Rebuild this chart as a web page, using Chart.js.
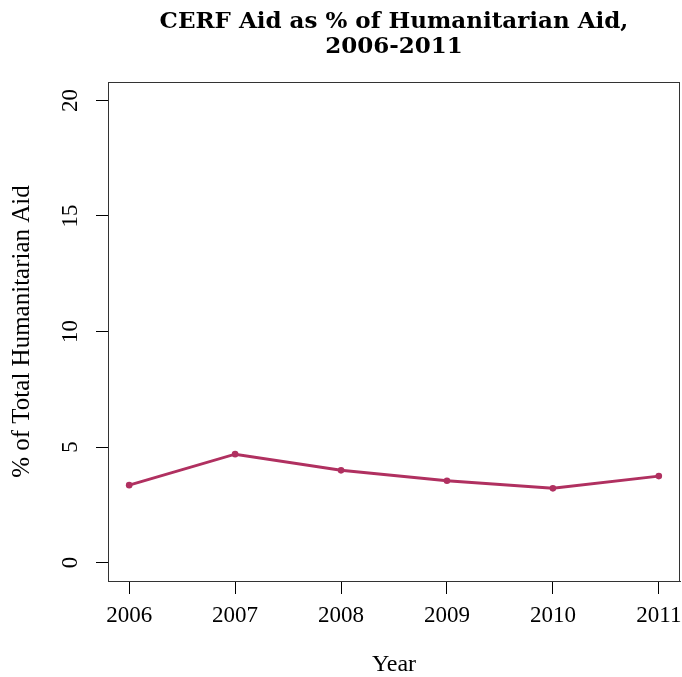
<!DOCTYPE html>
<html>
<head>
<meta charset="utf-8">
<style>
    body { margin: 0; background: #fff; }
    .chart { width: 682px; height: 677px; }
</style>
</head>
<body>
<div class="chart">
    <canvas id="cerfChart"></canvas>
</div>
<script src="https://cdn.jsdelivr.net/npm/chart.js"></script>
<script>
const years = [2006, 2007, 2008, 2009, 2010, 2011];
const cerfShare = [3.35, 4.69, 3.99, 3.54, 3.21, 3.74];
const yTicks = [0, 5, 10, 15, 20];

Chart.defaults.font.family = "'Liberation Serif', serif";
Chart.defaults.color = '#000';

// R-style box round the plot region
const boxPlugin = {
    id: 'box',
    afterDraw(chart) {
        const a = chart.chartArea;
        const ctx = chart.ctx;
        ctx.save();
        ctx.strokeStyle = '#333';
        ctx.lineWidth = 1;
        ctx.strokeRect(a.left + 0.5, a.top + 0.5, a.right - a.left - 1, a.bottom - a.top);
        ctx.restore();
    }
};

const ctx = document.getElementById('cerfChart').getContext('2d');
new Chart(ctx, {
    type: 'line',
    data: {
        datasets: [{
            data: years.map((y, i) => ({ x: y, y: cerfShare[i] })),
            borderColor: '#B03060',
            backgroundColor: '#B03060',
            borderWidth: 3,
            pointRadius: 3.3,
            pointBorderWidth: 0,
            pointHoverRadius: 3.3,
            tension: 0
        }]
    },
    options: {
        responsive: true,
        maintainAspectRatio: false,
        animation: false,
        layout: { autoPadding: false, padding: { right: 2 } },
        plugins: {
            legend: { display: false },
            tooltip: { enabled: false },
            title: {
                display: true,
                fullSize: false,
                text: ['CERF Aid as % of Humanitarian Aid,', '2006-2011'],
                font: { family: "'DejaVu Serif', serif", size: 23, weight: 'bold', lineHeight: 1.087 },
                padding: { top: 10, bottom: 22 }
            }
        },
        scales: {
            x: {
                type: 'linear',
                min: 2005.8,
                max: 2011.2,
                afterBuildTicks: s => { s.ticks = years.map(v => ({ value: v })); },
                afterFit: s => { s.height = 96; s.paddingLeft = 0; s.paddingRight = 0; },
                grid: { drawOnChartArea: false, tickLength: 13, color: '#000' },
                border: { color: '#333' },
                ticks: { font: { size: 23 }, padding: 8, callback: v => String(v), maxRotation: 0 },
                title: { display: true, text: 'Year', font: { size: 24, lineHeight: 1 }, padding: 0 }
            },
            y: {
                min: -0.8,
                max: 20.8,
                afterBuildTicks: s => { s.ticks = yTicks.map(v => ({ value: v })); },
                afterFit: s => { s.width = 108; s.paddingTop = 0; s.paddingBottom = 0; },
                grid: { drawOnChartArea: false, tickLength: 12, color: '#000' },
                border: { color: '#333' },
                ticks: { font: { size: 23 }, padding: 14, minRotation: 90, maxRotation: 90, crossAlign: 'center' },
                title: { display: true, text: '% of Total Humanitarian Aid', font: { size: 25, lineHeight: 1.2 }, padding: { top: 7 } }
            }
        }
    },
    plugins: [boxPlugin]
});
</script>
</body>
</html>
